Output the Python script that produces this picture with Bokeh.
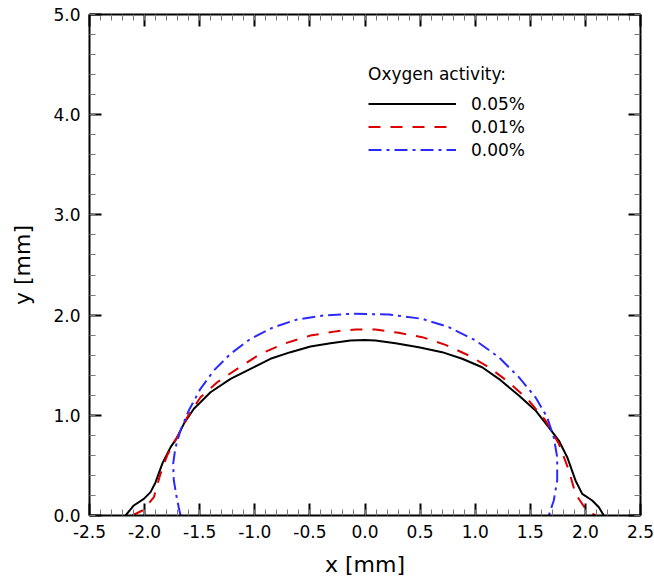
from bokeh.plotting import figure
from bokeh.models import (LinearAxis, SingleIntervalTicker, PrintfTickFormatter,
                          CustomJSTickFormatter, Legend, LegendItem, Range1d)
from bokeh.embed import file_html
from bokeh.resources import INLINE

# ---- data ----
x_005 = [-2.173, -2.098, -2.007, -1.946, -1.901, -1.840, -1.765, -1.704, -1.644, -1.553,
         -1.402, -1.22, -1.039, -0.858, -0.676, -0.495, -0.313, -0.132, 0.0, 0.095,
         0.277, 0.488, 0.70, 0.882, 1.063, 1.214, 1.396, 1.547, 1.668, 1.759, 1.835,
         1.91, 1.971, 2.062, 2.122, 2.167]
y_005 = [0.0, 0.10, 0.166, 0.233, 0.33, 0.516, 0.68, 0.78, 0.915, 1.065,
         1.23, 1.364, 1.464, 1.564, 1.63, 1.687, 1.72, 1.747, 1.752, 1.747,
         1.72, 1.68, 1.63, 1.564, 1.48, 1.364, 1.198, 1.048, 0.88, 0.748, 0.582,
         0.35, 0.216, 0.15, 0.083, 0.0]

x_001 = [-2.113, -2.007, -1.916, -1.856, -1.795, -1.72, -1.613, -1.493, -1.341, -1.16,
         -0.948, -0.737, -0.495, -0.252, -0.086, 0.095, 0.307, 0.519, 0.73, 0.942,
         1.123, 1.305, 1.486, 1.638, 1.759, 1.85, 1.91, 2.001, 2.092]
y_001 = [0.0, 0.057, 0.183, 0.416, 0.60, 0.75, 0.98, 1.18, 1.33, 1.464,
         1.614, 1.714, 1.796, 1.84, 1.856, 1.856, 1.823, 1.78, 1.703, 1.597,
         1.48, 1.33, 1.148, 0.948, 0.716, 0.45, 0.216, 0.066, 0.0]

x_000 = [-1.674, -1.704, -1.735, -1.741, -1.72, -1.674, -1.599, -1.493, -1.372, -1.22,
         -1.039, -0.828, -0.615, -0.374, -0.132, 0.216, 0.519, 0.76, 1.003, 1.214,
         1.396, 1.547, 1.653, 1.713, 1.744, 1.744, 1.713, 1.668]
y_000 = [0.0, 0.15, 0.35, 0.516, 0.68, 0.85, 1.048, 1.264, 1.447, 1.614,
         1.763, 1.88, 1.956, 1.996, 2.013, 2.006, 1.963, 1.88, 1.747, 1.58,
         1.38, 1.18, 0.98, 0.78, 0.582, 0.35, 0.15, 0.0]

series_labels = ["0.05%", "0.01%", "0.00%"]
legend_title = "Oxygen activity:"
x_label = "x [mm]"
y_label = "y [mm]"

FONT = "DejaVu Sans"

p = figure(width=654, height=580, output_backend="svg", toolbar_location=None,
           x_range=Range1d(-2.5, 2.5), y_range=Range1d(0, 5),
           x_axis_type=None, y_axis_type=None,
           min_border_left=89, min_border_right=14, min_border_top=14,
           min_border_bottom=65)
p.outline_line_color = None
p.xgrid.visible = False
p.ygrid.visible = False
p.background_fill_color = "white"
p.border_fill_color = "white"


def style_axis(ax, show_labels):
    ax.axis_line_width = 2
    ax.axis_line_color = "black"
    ax.major_tick_in = 12
    ax.major_tick_out = 0
    ax.major_tick_line_width = 2
    ax.major_tick_line_color = "black"
    ax.minor_tick_in = 6
    ax.minor_tick_out = 0
    ax.minor_tick_line_width = 1
    ax.minor_tick_line_color = "#777777"
    ax.major_label_text_font = FONT
    ax.major_label_text_color = "black"
    ax.axis_label_text_font = FONT
    ax.axis_label_text_font_style = "normal"
    ax.axis_label_text_color = "black"
    ax.major_label_text_font_size = "17px"
    ax.axis_label_text_font_size = "22px"
    if not show_labels:
        ax.major_label_standoff = 0


xt = SingleIntervalTicker(interval=0.5, num_minor_ticks=5)
yt = SingleIntervalTicker(interval=1.0, num_minor_ticks=5)
fmt = PrintfTickFormatter(format="%.1f")
blank = CustomJSTickFormatter(code="return ''")

xb = LinearAxis(ticker=xt, formatter=fmt, axis_label=x_label)
style_axis(xb, True)
xb.major_label_standoff = 9
xb.axis_label_standoff = 11
p.add_layout(xb, "below")

yl = LinearAxis(ticker=yt, formatter=fmt, axis_label=y_label)
style_axis(yl, True)
yl.major_label_standoff = 9
yl.axis_label_standoff = 15
p.add_layout(yl, "left")

xa = LinearAxis(ticker=SingleIntervalTicker(interval=0.5, num_minor_ticks=5),
                formatter=blank)
style_axis(xa, False)
p.add_layout(xa, "above")

yr = LinearAxis(ticker=SingleIntervalTicker(interval=1.0, num_minor_ticks=5),
                formatter=blank)
style_axis(yr, False)
p.add_layout(yr, "right")

r1 = p.line(x_005, y_005, line_color="black", line_width=2)
r2 = p.line(x_001, y_001, line_color="#dd0000", line_width=2, line_dash="12 10")
r3 = p.line(x_000, y_000, line_color="#2a2aff", line_width=2, line_dash="13 5 3 5")

legend = Legend(items=[LegendItem(label=series_labels[0], renderers=[r1]),
                       LegendItem(label=series_labels[1], renderers=[r2]),
                       LegendItem(label=series_labels[2], renderers=[r3])],
                title=legend_title, location=(279, 354),
                glyph_width=88, glyph_height=23, label_height=23, spacing=0,
                padding=0, margin=0, label_standoff=15,
                border_line_color=None, background_fill_alpha=0,
                label_text_font=FONT, label_text_font_size="17px",
                label_text_color="black",
                title_text_font=FONT, title_text_font_size="17px",
                title_text_color="black",
                title_text_font_style="normal", title_standoff=8)
p.add_layout(legend)

open("out.html", "w").write(file_html(p, INLINE))
